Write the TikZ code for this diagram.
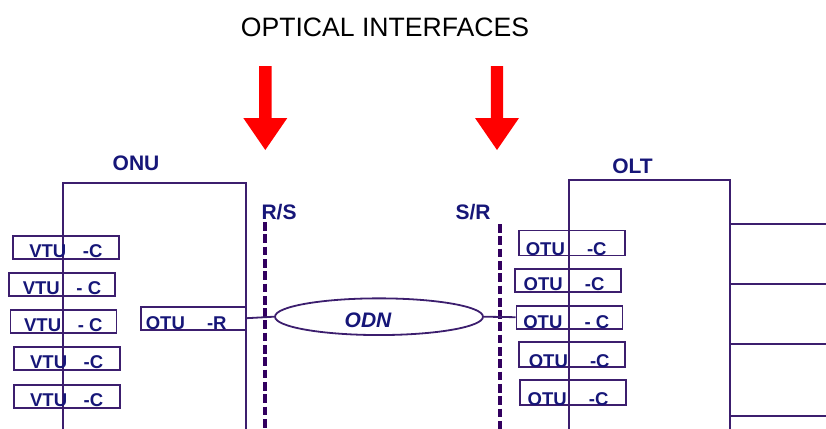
\documentclass[tikz,border=0pt]{standalone}
\usepackage{fontspec}
\setmainfont{Liberation Sans}
\usepackage{tikz}
\usetikzlibrary{shapes.geometric}

\definecolor{navytext}{RGB}{22,22,120}
\definecolor{framepurple}{RGB}{60,30,110}
\definecolor{dashpurple}{RGB}{50,0,95}

\begin{document}
\begin{tikzpicture}[
  x=1pt, y=-1pt,
  frame/.style={rectangle, draw=framepurple, line width=1.8pt, anchor=north west, minimum height=300},
  unit/.style={rectangle, draw=framepurple, line width=1.6pt, minimum width=106, minimum height=23, inner sep=0pt, text=navytext, font=\fontsize{18.5}{20}\selectfont\bfseries, text height=20pt, text depth=0pt},
  tag/.style={text=navytext, font=\fontsize{21}{24}\selectfont\bfseries},
  link/.style={draw=framepurple, line width=1.8pt},
  iface/.style={draw=dashpurple, line width=4pt, dash pattern=on 8.7pt off 3.6pt},
  pointer/.style={fill=red}
]
\useasboundingbox (0,0) rectangle (826,428);
\clip (0,0) rectangle (826,428);

\node [font=\fontsize{26.6}{30}\selectfont] (title) at (385,27) {OPTICAL INTERFACES};
\foreach \ax in {265.3,497}
  \fill [pointer] (\ax-6.2,66) -- ++(12.4,0) -- ++(0,52) -- ++(15.8,0) -- (\ax,150) -- ++(-22,-32) -- ++(15.8,0) -- cycle;

\node [frame, minimum width=183] (onu) at (62,182) {};
\node [frame, minimum width=161.3] (olt) at (567.7,179) {};
\node [tag] (onulabel) at (136,163) {ONU};
\node [tag] (oltlabel) at (632.5,166) {OLT};
\node [tag] (rslabel) at (279,212) {R/S};
\node [tag] (srlabel) at (473,212) {S/R};

\coordinate (rstop) at (265,222);
\coordinate (srtop) at (500,224);
\draw [iface] (rstop) -- ++(0,220);
\draw [iface] (srtop) -- ++(0,220);

\node [unit] (vtu1) at (65.9,247.3) {VTU\hspace{0.9em}-C};
\node [unit] (vtu2) at (62,284.3) {VTU\hspace{0.9em}- C};
\node [unit] (vtu3) at (63.3,321.5) {VTU\hspace{0.9em}- C};
\node [unit] (vtu4) at (66.7,358.3) {VTU\hspace{0.9em}-C};
\node [unit] (vtu5) at (66.7,396.3) {VTU\hspace{0.9em}-C};
\node [unit, minimum width=105, text height=23pt] (otur) at (193.2,318.2) {OTU\hspace{1.2em}-R\hspace*{14pt}};

\node [unit, text height=25pt] (otuc1) at (572.2,243) {OTU\hspace{1.2em}-C\hspace*{12pt}};
\node [unit] (otuc2) at (568,280.5) {OTU\hspace{1.2em}-C\hspace*{8pt}};
\node [unit, text height=22pt] (otuc3) at (569.3,317.2) {OTU\hspace{1.2em}- C\hspace*{6pt}};
\node [unit, text height=25pt] (otuc4) at (572.2,354.7) {OTU\hspace{1.2em}-C\hspace*{6pt}};
\node [unit, text height=25pt] (otuc5) at (573,392.5) {OTU\hspace{1.2em}-C\hspace*{10pt}};

\node [ellipse, draw=framepurple, line width=1.8pt, minimum width=208, minimum height=36.7, inner sep=0pt, text=navytext, font=\fontsize{21}{24}\selectfont\bfseries\itshape, text height=21.6pt, text depth=0pt] (odn) at (379,316.7) {ODN\hspace*{22pt}};

\path [link] (otur.east) -- (odn.west);
\path [link] (odn.east) -- (otuc3.west);
\foreach \oy [count=\i] in {224,284.3,344,416} {
  \coordinate (out\i) at (830,\oy);
  \path [link] (olt.east |- out\i) -- (out\i);
}
\end{tikzpicture}
\end{document}
